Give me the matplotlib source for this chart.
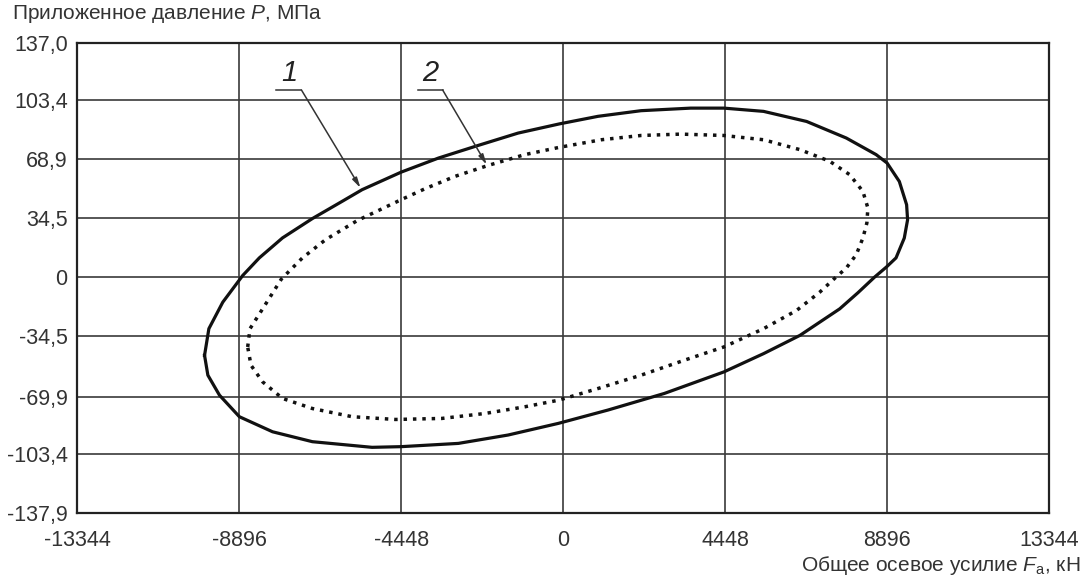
import matplotlib
matplotlib.use('Agg')
import matplotlib.pyplot as plt

plt.rcParams['font.family'] = ['Liberation Sans', 'DejaVu Sans']
plt.rcParams['mathtext.fontset'] = 'custom'
plt.rcParams['mathtext.rm'] = 'Liberation Sans'
plt.rcParams['mathtext.it'] = 'Liberation Sans:italic'

# оси
x_ticks = [-13344, -8896, -4448, 0, 4448, 8896, 13344]
x_labels = ['-13344', '-8896', '-4448', '0', '4448', '8896', '13344']
y_ticks = [-137.9, -103.4, -69.9, -34.5, 0, 34.5, 68.9, 103.4, 137.0]
y_labels = ['-137,9', '-103,4', '-69,9', '-34,5', '0', '34,5', '68,9', '103,4', '137,0']

# кривая 1 (сплошная), точки
x1 = [-9853, -9734, -9352, -8805, -8349, -7711, -6891, -6071, -5524, -4448,
      -3427, -2333, -1240, -100, 955, 2138, 3502, 4412, 5503, 6686,
      7777, 8596, 8896, 9233, 9433, 9460, 9369, 9142, 8880, 8550,
      8100, 7595, 6504, 5503, 4412, 2775, 1228, -136, -1514, -2881, -4448,
      -5251, -6891, -7985, -8896, -9443, -9762, -9853]
y1 = [-45.7, -30.1, -14.6, 1.0, 11.3, 23.0, 34.3, 44.4, 51.2, 61.5,
      69.7, 77.1, 84.3, 89.7, 94.1, 97.4, 98.9, 98.9, 97.0, 91.1,
      81.4, 71.7, 66.8, 56.0, 42.4, 33.6, 22.9, 11.3, 6.0, 0.0,
      -9.0, -18.5, -34.0, -44.7, -55.4, -68.0, -77.7, -85.5, -92.3, -97.2, -99.1,
      -99.5, -96.2, -90.4, -81.6, -69.0, -57.3, -45.7]

# кривая 2 (пунктир)
x2 = [-8668, -8604, -8258, -7740, -7164, -6526, -5660, -4448, -3792, -2971,
      -2060, -1057, -100, 1046, 2138, 3229, 4412, 5503, 6504, 7322,
      7868, 8232, 8369, 8341, 8232, 8050, 7777, 7480, 7049, 6413,
      5503, 4412, 3320, 2138, 955, -120, -1057, -2151, -3336, -4612,
      -5797, -6891, -7711, -8258, -8577, -8668]
y2 = [-40.8, -30.1, -18.5, -1.0, 11.3, 22.0, 33.1, 45.4, 51.8, 59.0,
      65.4, 71.7, 76.0, 80.4, 82.9, 83.7, 82.9, 80.4, 74.6, 67.8,
      60.0, 50.2, 40.5, 31.7, 22.9, 13.2, 5.4, -0.2, -8.7, -19.4,
      -30.1, -40.8, -48.6, -57.3, -65.1, -71.9, -75.8, -79.7, -82.6, -83.2,
      -81.6, -76.8, -70.9, -61.2, -51.5, -40.8]

# выноски: номер, позиция полки, конец стрелки
marks = ['1', '2']
mark_xy = [(-7531, 109.5), (-3652, 109.5)]
tip_xy = [(-5569, 52.2), (-2102, 65.8)]

fig = plt.figure(figsize=(10.85, 5.84), dpi=100)
ax = fig.add_axes([0.0714, 0.1216, 0.8954, 0.8048])

ax.set_xlim(-13344, 13344)
ax.set_ylim(-137.9, 137.0)
ax.set_xticks(x_ticks)
ax.set_xticklabels(x_labels)
ax.set_yticks(y_ticks)
ax.set_yticklabels(y_labels)
ax.tick_params(length=0, labelsize=15.5, colors='#333333')
ax.tick_params(axis='x', pad=12)
ax.tick_params(axis='y', pad=7)
ax.grid(True, color='#3a3a3a', linewidth=1.2)
for s in ax.spines.values():
    s.set_linewidth(1.6)
    s.set_color('#222222')

ax.plot(x1, y1, color='#111111', linewidth=2.3, solid_joinstyle='round')
ax.plot(x2, y2, color='#111111', linewidth=2.5, linestyle=(0, (1, 1.7)),
        dash_capstyle='butt')

for m, (tx, ty), (ax_, ay_) in zip(marks, mark_xy, tip_xy):
    ax.annotate('', xy=(ax_, ay_), xytext=(tx + 340, ty),
                arrowprops=dict(arrowstyle='-|>,head_length=0.6,head_width=0.15',
                                color='#333333', linewidth=1.1,
                                shrinkA=0, shrinkB=0))
    ax.plot([tx - 350, tx + 340], [ty, ty], color='#333333', linewidth=1.1)
    ax.text(tx, ty + 1.5, m, fontsize=21, style='italic', ha='center', va='bottom',
            color='#222222')

fig.text(0.011, 0.967, 'Приложенное давление $P$, МПа', fontsize=15,
         color='#333333', ha='left', va='baseline')
fig.text(0.996, 0.022, 'Общее осевое усилие $F_{\\mathrm{a}}$, кН', fontsize=15,
         color='#333333', ha='right', va='baseline')

fig.savefig('out.png', dpi=100)
